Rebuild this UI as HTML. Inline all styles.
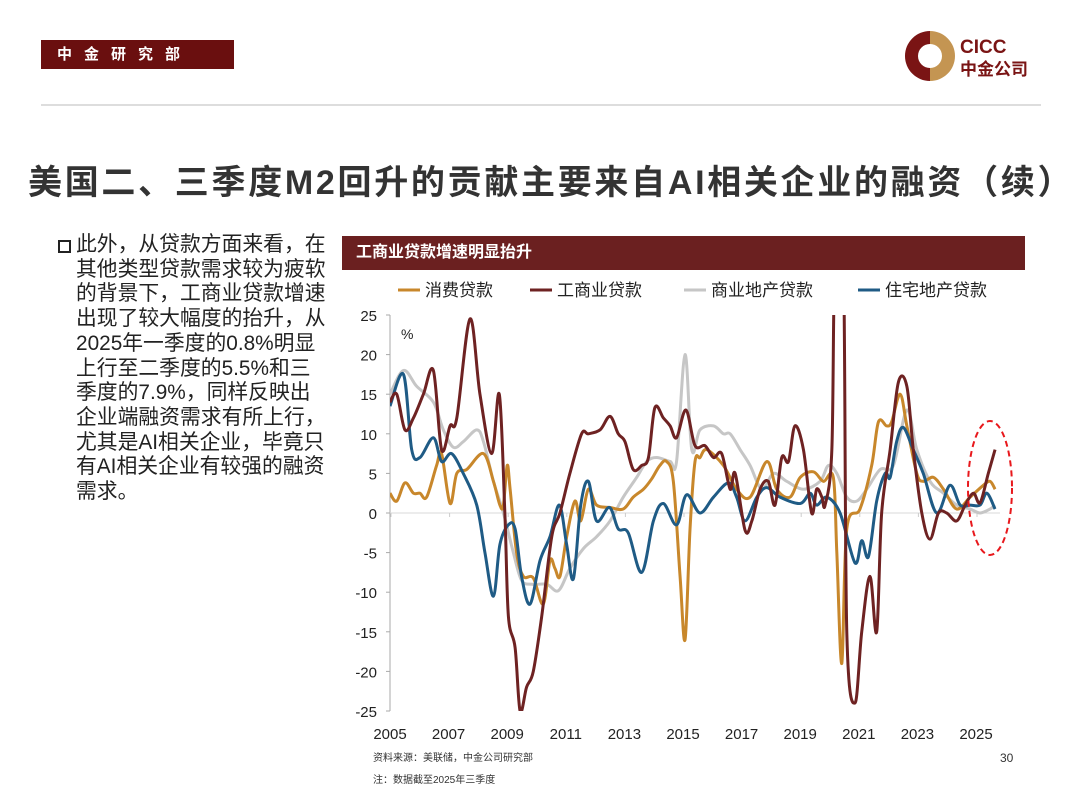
<!DOCTYPE html>
<html><head><meta charset="utf-8">
<style>
body{margin:0;background:#fff;}
#page{position:relative;width:1080px;height:810px;overflow:hidden;font-family:"Liberation Sans","Noto Sans CJK SC",sans-serif;color:#222;}
.abs{position:absolute;}
</style></head>
<body>
<div id="page">
  <div class="abs" style="left:41px;top:40px;width:193px;height:29px;background:#6a0f0f;color:#fff;font-size:15px;font-weight:bold;letter-spacing:12px;line-height:29px;padding-left:16px;box-sizing:border-box;">中金研究部</div>
  <svg class="abs" style="left:900px;top:28px" width="150" height="56">
    <path d="M30,3 A25,25 0 1,0 30,53 L30,40 A12,12 0 1,1 30,16 Z" fill="#7a1414"/>
    <path d="M30,3 A25,25 0 0,1 30,53 L30,40 A12,12 0 0,0 30,16 Z" fill="#c49552"/>
    <text x="60" y="25" font-size="19" font-weight="bold" fill="#7a1414" font-family="Liberation Sans, sans-serif">CICC</text>
    <text x="60" y="47" font-size="17" font-weight="bold" fill="#7a1414" font-family="Noto Sans CJK SC, sans-serif">中金公司</text>
  </svg>
  <div class="abs" style="left:41px;top:104px;width:1000px;height:2px;background:#ddd;"></div>
  <div class="abs" style="left:28px;top:155px;font-size:34px;letter-spacing:2.7px;font-weight:bold;color:#333;white-space:nowrap;">美国二、三季度M2回升的贡献主要来自AI相关企业的融资（续）</div>
  <div class="abs" style="left:58px;top:233px;width:290px;font-size:20.8px;line-height:24.7px;color:#222;white-space:nowrap;">
    <span style="position:absolute;left:0;top:7px;width:9px;height:9px;border:2px solid #222;"></span>
    <div style="padding-left:18px;">此外，从贷款方面来看，在<br>其他类型贷款需求较为疲软<br>的背景下，工商业贷款增速<br>出现了较大幅度的抬升，从<br>2025年一季度的0.8%明显<br>上行至二季度的5.5%和三<br>季度的7.9%，同样反映出<br>企业端融资需求有所上行，<br>尤其是AI相关企业，毕竟只<br>有AI相关企业有较强的融资<br>需求。</div>
  </div>
  <div class="abs" style="left:342px;top:236px;width:683px;height:34px;background:#6b2020;color:#fff;font-size:16px;font-weight:bold;line-height:34px;padding-left:14px;box-sizing:border-box;">工商业贷款增速明显抬升</div>
  <svg class="abs" id="chart" style="left:0;top:0" width="1080" height="810"></svg>
  <div class="abs" style="left:373px;top:749px;font-size:10px;color:#333;">资料来源：美联储，中金公司研究部</div>
  <div class="abs" style="left:373px;top:771px;font-size:10px;color:#333;">注：数据截至2025年三季度</div>
  <div class="abs" style="left:1000px;top:751px;font-size:12px;color:#333;">30</div>
</div>
<script>
const yTicks=[25,20,15,10,5,0,-5,-10,-15,-20,-25];
const xTickYears=[2005,2007,2009,2011,2013,2015,2017,2019,2021,2023,2025];
const seriesNames=["消费贷款","工商业贷款","商业地产贷款","住宅地产贷款"];
const consumerDates=[2005.0,2005.23,2005.51,2005.8,2006.02,2006.25,2006.59,2006.76,2007.05,2007.28,2007.62,2008.19,2008.53,2008.75,2008.87,2009.0,2009.1,2009.32,2009.55,2009.89,2010.23,2010.46,2010.63,2010.8,2011.03,2011.31,2011.51,2011.77,2012.05,2012.51,2012.96,2013.3,2013.65,2013.93,2014.21,2014.44,2014.67,2014.9,2015.07,2015.24,2015.41,2015.58,2015.81,2016.38,2016.83,2017.29,2017.86,2018.2,2018.65,2019.0,2019.45,2019.79,2020.13,2020.25,2020.42,2020.59,2021.04,2021.44,2021.67,2021.95,2022.12,2022.41,2022.64,2022.98,2023.2,2023.55,2023.89,2024.34,2024.8,2025.25,2025.48,2025.65];
const consumerValues=[2.5,1.5,3.8,2.5,2.5,2,6,7.5,1.2,5,5.5,7.5,4,1,1,6,3,-5,-8,-8.2,-11.5,-6,-7,-8,-3,1.5,-1,3,1,0.7,0.5,2,3,4.3,6,6.5,4,-8,-16,-2,6.5,7,8,6,3,2,6.5,3,2,4.5,5.2,4,4.5,-5,-19,-2,0.5,6,11.5,11,11.5,15,11,5,4,4.5,3,0.5,2,3.5,4,3];
const ciDates=[2005.0,2005.23,2005.51,2005.8,2006.14,2006.48,2006.76,2007.05,2007.28,2007.73,2008.07,2008.47,2008.73,2008.92,2009.04,2009.27,2009.44,2009.66,2009.89,2010.18,2010.52,2010.8,2011.14,2011.54,2011.77,2012.17,2012.51,2012.79,2013.02,2013.3,2013.59,2013.82,2014.04,2014.33,2014.56,2014.78,2015.1,2015.41,2015.75,2016.04,2016.32,2016.61,2016.78,2017.12,2017.35,2017.63,2017.91,2018.14,2018.37,2018.6,2018.82,2019.11,2019.39,2019.56,2019.74,2019.85,2020.08,2020.19,2020.47,2020.59,2020.87,2021.1,2021.38,2021.61,2021.78,2022.07,2022.35,2022.64,2022.86,2023.15,2023.43,2023.72,2024.0,2024.34,2024.63,2024.91,2025.14,2025.42,2025.65];
const ciValues=[14,15,10.5,12,15,18,8,11,12,24.5,15,7.5,15,0,-13,-17,-25,-22,-20,-13,-3,0,5,10,10,10.5,12.2,10,9,5.5,6,7,13.3,12,11,9.5,13,8.5,8.5,7,7.5,3,5,-2.2,-1,3,4,1,7,6.5,11,8,0,3,2,1,8,33,33,-15,-24,-15,-8,-15,0,8,16.5,16,8,0,-3.3,0,0,-1,1,2.5,1.3,5,8];
const creDates=[2005.0,2005.46,2005.91,2006.48,2006.82,2007.16,2007.5,2007.96,2008.19,2008.53,2008.87,2009.21,2009.49,2009.84,2010.35,2010.75,2011.14,2011.6,2012.05,2012.51,2012.96,2013.42,2013.76,2014.1,2014.56,2014.78,2015.07,2015.3,2015.58,2016.04,2016.38,2016.61,2016.95,2017.29,2017.69,2018.09,2018.54,2019.11,2019.68,2019.96,2020.25,2020.59,2020.93,2021.27,2021.73,2022.18,2022.64,2022.98,2023.43,2023.89,2024.34,2024.8,2025.14,2025.48,2025.65];
const creValues=[15,18,16,14,10.5,8.3,9,10.5,9,4,0,-5,-8.5,-9,-9,-9.8,-7,-4.5,-3,-1,2,4.5,6.5,7,6.5,6.5,20,8,10.5,11,10,10,8,6,3,5,4,3,4,6,5,2,1.5,3,5.5,6,13,8,4,2.5,1,0.5,0,0.5,1];
const resDates=[2005.0,2005.46,2005.74,2006.02,2006.48,2006.76,2007.1,2007.5,2007.96,2008.24,2008.53,2008.75,2009.04,2009.27,2009.49,2009.78,2010.12,2010.46,2010.78,2011.03,2011.26,2011.51,2011.77,2012.05,2012.49,2012.79,2013.13,2013.59,2013.99,2014.33,2014.78,2015.12,2015.58,2016.04,2016.55,2016.83,2017.12,2017.52,2017.86,2018.31,2019.0,2019.34,2019.56,2019.91,2020.36,2020.87,2021.1,2021.33,2021.61,2021.9,2022.07,2022.29,2022.52,2022.86,2023.2,2023.66,2024.11,2024.46,2024.8,2025.14,2025.37,2025.65];
const resValues=[13.5,17.5,8,7,9.5,6.5,7.5,5,1,-5,-10.5,-4,-1.5,-2,-8,-11.5,-6,-3,1,-4,-8.3,1,4,-1,0.7,-2,-2.5,-7.5,-1,1.2,-1.5,2.3,0,2,3.8,2,-1,2,3.2,2,1.2,2.5,1,2,0,-6.3,-3.5,-5.5,1.5,5,4.5,9,10.8,8,5,0,3.5,1,1,1,2.5,0.5];

const NS="http://www.w3.org/2000/svg";
const svg=document.getElementById('chart');
const L=390,R=1000,T=315,B=711,x0=2005,xPerYear=29.3;
function xS(yr){return L+(yr-x0)*xPerYear;}
function yS(v){return T+(25-v)*(B-T)/50;}
function mk(tag,attrs){const e=document.createElementNS(NS,tag);for(const k in attrs)e.setAttribute(k,attrs[k]);svg.appendChild(e);return e;}
const defs=document.createElementNS(NS,'defs');
defs.innerHTML='<clipPath id="plotclip"><rect x="390" y="315" width="640" height="396"/></clipPath>';
svg.appendChild(defs);
let ax=mk('line',{x1:L,y1:T,x2:L,y2:B,stroke:'#aaa','stroke-width':1});


let zl=mk('line',{x1:L,y1:yS(0),x2:R,y2:yS(0),stroke:'#d9d9d9','stroke-width':1});


yTicks.forEach(v=>{
  let tk=mk('line',{x1:L-4,y1:yS(v),x2:L,y2:yS(v),stroke:'#aaa'});
  
  
  let t=mk('text',{x:377,y:yS(v)+6,'text-anchor':'end','font-size':15,fill:'#222','font-family':'Liberation Sans, sans-serif'});
  t.textContent=v;
  
  
});
xTickYears.forEach(yr=>{
  let tk=mk('line',{x1:xS(yr)+1,y1:yS(0),x2:xS(yr)+1,y2:yS(0)+4,stroke:'#ccc'});
  
  
  let t=mk('text',{x:xS(yr),y:739,'text-anchor':'middle','font-size':15,fill:'#222','font-family':'Liberation Sans, sans-serif'});
  t.textContent=yr;
  
  
});
let pct=mk('text',{x:401,y:339,'font-size':14,fill:'#222','font-family':'Liberation Sans, sans-serif'});
pct.textContent='%';


function pathD(ds,vs){
  const p=ds.map((d,i)=>[xS(d),yS(vs[i])]);
  let s='M'+p[0][0]+','+p[0][1];
  for(let i=0;i<p.length-1;i++){
    const p0=p[Math.max(0,i-1)],p1=p[i],p2=p[i+1],p3=p[Math.min(p.length-1,i+2)];
    const c1=[p1[0]+(p2[0]-p0[0])/6,p1[1]+(p2[1]-p0[1])/6];
    const c2=[p2[0]-(p3[0]-p1[0])/6,p2[1]-(p3[1]-p1[1])/6];
    s+=' C'+c1[0]+','+c1[1]+' '+c2[0]+','+c2[1]+' '+p2[0]+','+p2[1];
  }
  return s;
}
const colors=['#c8872b','#6e2222','#c6c6c6','#1f5b85'];
const sets=[[creDates,creValues,2,'line-commercial-real-estate'],[consumerDates,consumerValues,0,'line-consumer'],[resDates,resValues,3,'line-residential'],[ciDates,ciValues,1,'line-commercial-industrial']];
sets.forEach(s=>{
  let p=mk('path',{d:pathD(s[0],s[1]),fill:'none',stroke:colors[s[2]],'stroke-width':3,'stroke-linejoin':'round','clip-path':'url(#plotclip)'});
  
  
});
let el=mk('ellipse',{cx:990,cy:488,rx:22,ry:67,fill:'none',stroke:'#e8181c','stroke-width':2,'stroke-dasharray':'6,4'});


const legX=[398,530,684,858];
seriesNames.forEach((n,i)=>{
  let g=mk('line',{x1:legX[i],y1:290,x2:legX[i]+22,y2:290,stroke:colors[i],'stroke-width':3});
  
  
  let t=mk('text',{x:legX[i]+27,y:296,'font-size':17,fill:'#222','font-family':'Liberation Sans, Noto Sans CJK SC, sans-serif'});
  t.textContent=n;
  
  
});
</script>
</body></html>
